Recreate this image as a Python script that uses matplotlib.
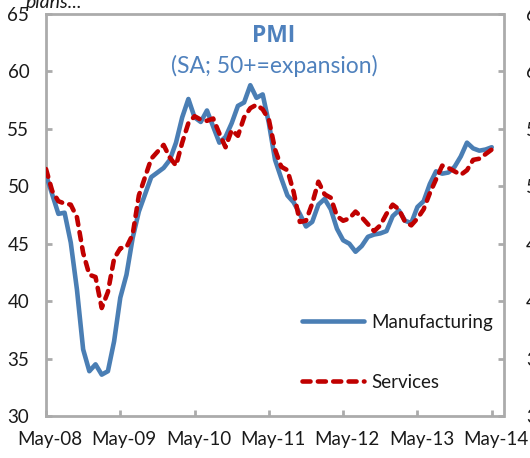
import matplotlib
matplotlib.use("Agg")
import matplotlib.pyplot as plt
import matplotlib.transforms as mtransforms
import numpy as np

# ---- data ----
tick_labels = ["May-08", "May-09", "May-10", "May-11", "May-12", "May-13", "May-14"]
tick_months = [0, 12, 24, 36, 48, 60, 72]

manufacturing = [
    51.0, 49.3, 47.6, 47.7, 45.1, 41.0, 35.8, 33.9, 34.5, 33.6, 33.9, 36.5,
    40.3, 42.3, 45.5, 47.8, 49.3, 50.8, 51.2, 51.6, 52.3, 53.8, 56.0, 57.6,
    56.0, 55.6, 56.6, 55.2, 53.8, 54.3, 55.5, 57.0, 57.3, 58.8, 57.7, 58.0,
    55.5, 52.3, 50.7, 49.2, 48.6, 47.6, 46.5, 46.9, 48.4, 48.9, 48.0, 46.3,
    45.3, 45.0, 44.3, 44.8, 45.6, 45.8, 45.9, 46.1, 47.4, 47.9, 47.0, 46.8,
    48.2, 48.7, 50.2, 51.3, 51.1, 51.2, 51.7, 52.6, 53.8, 53.3, 53.1, 53.2,
    53.4,
]
services = [
    51.5, 49.6, 48.7, 48.5, 48.4, 47.3, 44.2, 42.3, 42.1, 39.4, 40.8, 43.7,
    44.6, 44.7, 45.8, 49.2, 50.8, 52.4, 53.0, 53.6, 52.5, 51.8, 53.8, 55.5,
    56.1, 55.8, 55.7, 55.9, 54.6, 53.4, 54.9, 54.4, 56.0, 56.8, 57.1, 56.7,
    55.8, 53.2, 51.7, 51.4, 49.5, 46.9, 47.0, 48.5, 50.4, 49.3, 49.0, 47.4,
    47.0, 47.2, 47.8, 47.3, 46.7, 46.1, 46.6, 47.6, 48.4, 48.0, 46.9, 46.6,
    47.2, 48.0, 49.4, 50.6, 51.8, 51.6, 51.3, 51.0, 51.4, 52.3, 52.4, 52.8,
    53.2,
]
months = np.arange(len(manufacturing))
yticks = [30, 35, 40, 45, 50, 55, 60, 65]

# ---- style ----
blue = "#4A7EB4"
title_blue = "#4F81BD"
red = "#C00000"
grey = "#ABABAB"
txt = "#1A1A1A"
plt.rcParams["font.family"] = ["Lato", "DejaVu Sans"]

fig = plt.figure(figsize=(5.30, 4.58), dpi=100)
ax = fig.add_axes([46 / 530, 42 / 458, 457.5 / 530, 402 / 458])

ax.plot(months, manufacturing, color=blue, lw=3.3, solid_capstyle="round",
        solid_joinstyle="round", label="Manufacturing", zorder=3)
ax.plot(months, services, color=red, lw=3.3, linestyle=(0, (1.75, 1.6)),
        dash_capstyle="round", label="Services", zorder=4)

ax.set_xlim(0, 73.9)
ax.set_ylim(30, 65)
ax.set_xticks(tick_months)
ax.set_xticklabels(tick_labels)
ax.set_yticks(yticks)

for s in ax.spines.values():
    s.set_color(grey)
    s.set_linewidth(2.0)

ax.tick_params(axis="y", direction="in", length=4, width=2, color=grey,
               labelsize=13.5, labelcolor=txt, pad=12)
ax.tick_params(axis="x", direction="in", length=4, width=2, color=grey,
               labelsize=13.5, labelcolor=txt, pad=11)

offset = mtransforms.ScaledTranslation(4 / 100, 0, fig.dpi_scale_trans)
for lab in ax.get_xticklabels():
    lab.set_transform(lab.get_transform() + offset)

ax2 = ax.twinx()
ax2.set_ylim(30, 65)
ax2.set_yticks(yticks)
for s in ax2.spines.values():
    s.set_visible(False)
ax2.tick_params(axis="y", direction="in", length=4, width=2, color=grey,
                labelsize=13.5, labelcolor=txt, pad=16)

ax.text(0.498, 0.945, "PMI", transform=ax.transAxes, ha="center", va="center",
        fontsize=16.5, fontweight="bold", color=title_blue,
        family=["Open Sans", "DejaVu Sans"])
ax.text(0.498, 0.870, "(SA; 50+=expansion)", transform=ax.transAxes,
        ha="center", va="center", fontsize=16.5, color=title_blue)

leg = ax.legend(loc="center left", bbox_to_anchor=(0.5596, 0.159),
                frameon=False, fontsize=13.5, handlelength=3.3,
                handletextpad=0.4, labelspacing=2.3, borderpad=0,
                borderaxespad=0)
for t in leg.get_texts():
    t.set_color(txt)

fig.text(26 / 530, 1 - 8 / 458, "plans...", ha="left", va="baseline",
         fontsize=14, fontstyle="italic", color=txt)

fig.savefig("out.png", dpi=100)
